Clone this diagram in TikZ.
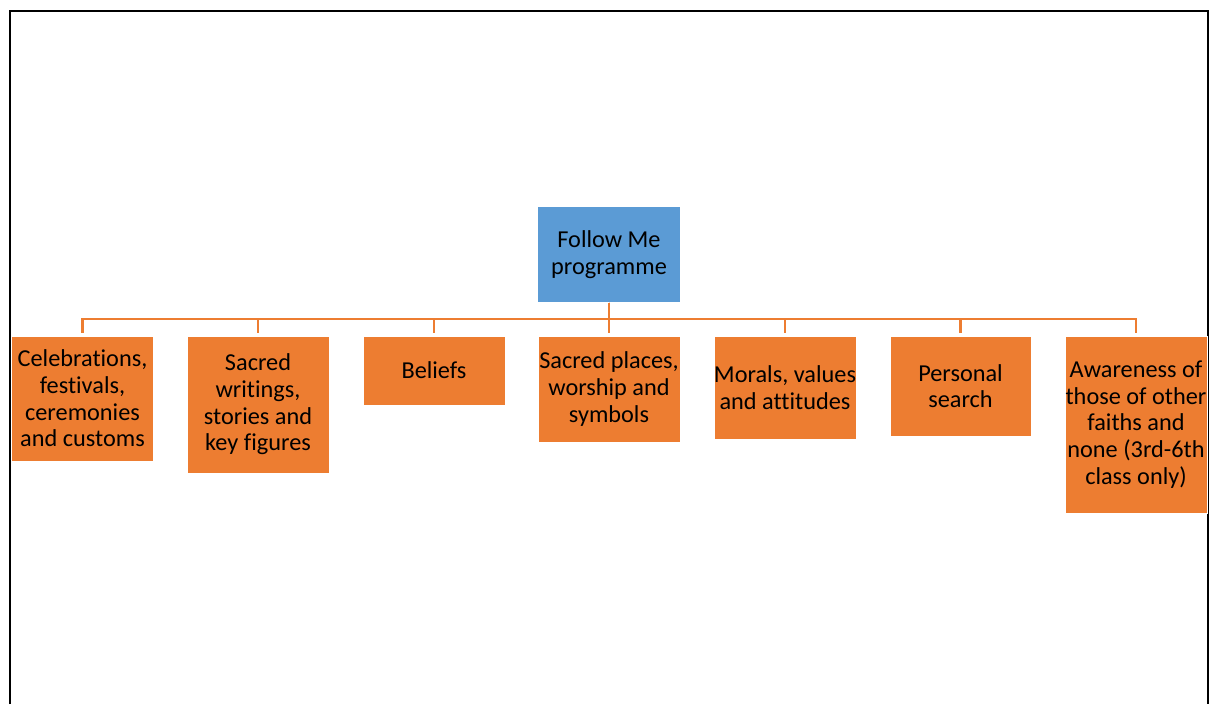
\documentclass[tikz,border=0pt]{standalone}
\usepackage{fontspec}
\setmainfont{Carlito}[Ligatures=NoCommon]
\definecolor{boxorange}{HTML}{ED7D31}
\definecolor{boxblue}{HTML}{5B9BD5}
\begin{document}
\begin{tikzpicture}[x=1pt,y=-1pt,
  box/.style={fill=boxorange, draw=white, line width=0.4pt, inner sep=0pt, align=center,
    font=\fontsize{24.3}{26.6}\selectfont, text=black},
  rootbox/.style={box, fill=boxblue},
  conn/.style={draw=boxorange, line width=2.5pt}]
\useasboundingbox (0,0) rectangle (1209,704);
\draw[line width=1.6pt] (10,704) -- (10,11) -- (1208,11) -- (1208,704);
% root
\node[rootbox, minimum width=143pt, minimum height=96pt] (root) at (609,254.5) {Follow Me\\programme};
% children (top at 336)
\node[box, minimum width=142pt, minimum height=125pt] (c1) at (82.5,398.5) {Celebrations,\\festivals,\\ceremonies\\and customs};
\node[box, minimum width=142pt, minimum height=137pt] (c2) at (258,404.5) {Sacred\\writings,\\stories and\\key figures};
\node[box, minimum width=142pt, minimum height=69pt] (c3) at (434,370.5) {Beliefs};
\node[box, minimum width=142pt, minimum height=106pt] (c4) at (609,389) {Sacred places,\\worship and\\symbols};
\node[box, minimum width=142pt, minimum height=103pt] (c5) at (785,387.5) {Morals, values\\and attitudes};
\node[box, minimum width=141pt, minimum height=100pt] (c6) at (960.5,386) {Personal\\search};
\node[box, minimum width=142pt, minimum height=177pt] (c7) at (1136,424.5) {Awareness of\\those of other\\faiths and\\none (3rd-6th\\class only)};
% connectors
\coordinate (bus) at (609,319);
\foreach \c in {c1,c2,c3,c4,c5,c6,c7}{
  \draw[conn, shorten >=3pt] (root.south) -- (bus) -| (\c.north);
}
\end{tikzpicture}
\end{document}
